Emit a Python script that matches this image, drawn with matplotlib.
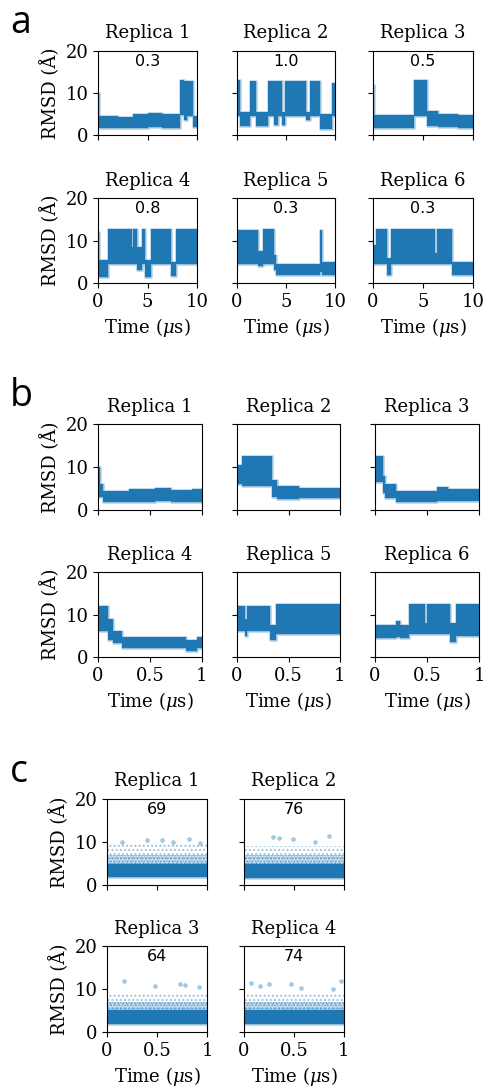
import numpy as np
import matplotlib
matplotlib.use("Agg")
import matplotlib.pyplot as plt

plt.rcParams['font.family'] = 'DejaVu Serif'
plt.rcParams['mathtext.fontset'] = 'dejavuserif'
plt.rcParams['hatch.linewidth'] = 1.0

# ---- panel a: 10 us runs, bands as (segment edges, low, high) ----
a_edges = [
    [0, 0.1, 2.0, 3.5, 5.0, 6.5, 8.3, 8.7, 9.0, 9.6, 10],
    [0, 0.27, 1.37, 1.98, 3.17, 3.8, 4.2, 4.6, 4.85, 7.0, 7.44, 8.46, 9.73, 10],
    [0, 0.1, 4.1, 5.4, 6.5, 8.5, 10],
    [0, 0.15, 1.0, 3.4, 3.55, 3.9, 4.4, 4.75, 5.4, 7.35, 7.85, 10],
    [0, 2.15, 2.7, 3.75, 4.0, 8.45, 8.7, 10],
    [0, 0.25, 1.35, 1.75, 6.2, 6.35, 7.9, 10],
]
a_low = [
    [2.0, 1.6, 1.6, 1.7, 1.8, 1.6, 4.8, 3.5, 4.5, 1.8],
    [4.5, 2.2, 4.5, 2.2, 4.5, 2.5, 4.5, 2.5, 4.5, 3.5, 4.5, 1.5, 4.5],
    [2.0, 1.6, 4.5, 2.2, 1.8, 1.6],
    [4.5, 1.5, 4.5, 4.5, 4.5, 3.0, 4.5, 1.5, 4.5, 1.6, 4.5],
    [4.5, 4.0, 4.5, 3.0, 1.8, 2.5, 1.8],
    [4.5, 4.5, 2.0, 4.5, 4.5, 4.5, 1.8],
]
a_high = [
    [10.0, 4.6, 4.4, 5.0, 5.2, 5.0, 13.0, 12.8, 12.8, 4.5],
    [13.0, 5.5, 12.8, 5.5, 12.8, 12.8, 12.8, 5.5, 12.8, 5.5, 12.8, 5.0, 12.5],
    [12.0, 4.8, 13.0, 5.8, 5.0, 4.8],
    [12.0, 5.5, 12.8, 8.5, 12.8, 8.5, 12.8, 5.5, 12.8, 5.0, 12.8],
    [12.5, 7.5, 12.8, 6.5, 4.5, 12.5, 5.0],
    [9.0, 12.8, 6.0, 12.8, 7.0, 12.8, 5.0],
]
a_notes = ['0.3', '1.0', '0.5', '0.8', '0.3', '0.3']

# ---- panel b: 1 us runs ----
b_edges = [
    [0, 0.02, 0.05, 0.3, 0.55, 0.7, 0.9, 1],
    [0, 0.05, 0.34, 0.39, 0.6, 1],
    [0, 0.08, 0.1, 0.2, 0.6, 0.7, 1],
    [0, 0.1, 0.14, 0.23, 0.85, 0.95, 1],
    [0, 0.08, 0.1, 0.32, 0.38, 1],
    [0, 0.2, 0.24, 0.33, 0.48, 0.5, 0.72, 0.78, 1],
]
b_low = [
    [3.0, 3.0, 1.8, 1.9, 2.0, 1.8, 1.8],
    [6.0, 5.5, 3.0, 2.6, 2.8],
    [6.5, 4.0, 2.8, 1.8, 2.0, 2.2],
    [6.0, 4.0, 3.3, 2.0, 1.5, 2.2],
    [6.0, 5.0, 6.0, 4.0, 5.5],
    [4.5, 4.8, 4.5, 5.5, 5.5, 5.5, 3.5, 5.0],
]
b_high = [
    [10.0, 6.0, 4.5, 4.8, 5.2, 4.6, 4.8],
    [10.5, 12.5, 7.0, 5.5, 5.2],
    [12.5, 8.0, 6.0, 4.5, 5.3, 5.0],
    [12.0, 9.0, 6.0, 4.6, 4.0, 4.8],
    [12.0, 9.0, 12.0, 7.5, 12.5],
    [7.5, 8.5, 7.5, 12.5, 8.0, 12.5, 8.0, 12.5],
]

# ---- panel c: 1 us runs, dense core + sparse cloud + outliers ----
c_core_low = [1.8, 1.7, 1.8, 1.8]
c_core_high = [5.0, 5.0, 5.0, 5.0]
c_mid_high = [7.0, 7.0, 7.0, 7.0]
c_cloud_high = [9.5, 9.0, 8.8, 8.8]
c_out_t = [
    [0.15, 0.40, 0.55, 0.66, 0.82, 0.93],
    [0.29, 0.35, 0.49, 0.71, 0.85],
    [0.17, 0.48, 0.73, 0.78, 0.92],
    [0.07, 0.16, 0.25, 0.47, 0.57, 0.89, 0.97],
]
c_out_y = [
    [10.1, 10.5, 10.5, 10.1, 10.6, 9.7],
    [11.1, 10.9, 10.6, 10.1, 11.4],
    [11.8, 10.7, 11.2, 11.0, 10.4],
    [11.4, 10.7, 11.1, 11.1, 10.3, 10.1, 11.9],
]
c_notes = ['69', '76', '64', '74']

W, H = 484, 1092
BLUE = '#1f77b4'
FS = 13
fig = plt.figure(figsize=(W / 100, H / 100), dpi=100)


def add_ax(x0, x1, y0, y1):
    return fig.add_axes([x0 / W, 1 - y1 / H, (x1 - x0) / W, (y1 - y0) / H])


def style(ax, xmax, xticks, xlabels, show_x, show_y, title):
    ax.set_xlim(0, xmax)
    ax.set_ylim(0, 20)
    ax.set_yticks([0, 10, 20])
    ax.set_xticks(xticks)
    ax.tick_params(labelsize=FS)
    if show_x:
        ax.set_xticklabels(xlabels)
        ax.set_xlabel(r'Time ($\mu$s)', fontsize=FS)
    else:
        ax.set_xticklabels([])
    if show_y:
        ax.set_ylabel('RMSD (Å)', fontsize=FS)
    else:
        ax.set_yticklabels([])
    ax.set_title(title, fontsize=FS, pad=9)


def bands(ax, edges, low, high):
    lo = np.append(low, low[-1])
    hi = np.append(high, high[-1])
    ax.fill_between(edges, lo, hi, step='post', color=BLUE, alpha=0.35,
                    lw=1.8, edgecolor=BLUE)
    ax.fill_between(edges, lo, hi, step='post', color=BLUE, lw=0)


def note(ax, s):
    ax.text(0.5, 0.88, s, transform=ax.transAxes, ha='center', va='center',
            fontsize=11.5, family='DejaVu Sans')


cols3 = [(98, 197), (237, 335), (373, 473)]
cols3b = [(98, 202), (237, 340), (375, 479)]
cols2 = [(107, 207), (244, 344)]

# panel a
for i in range(6):
    r, c = divmod(i, 3)
    y0, y1 = [(51, 135), (198, 283)][r]
    ax = add_ax(cols3[c][0], cols3[c][1], y0, y1)
    bands(ax, a_edges[i], a_low[i], a_high[i])
    style(ax, 10, [0, 5, 10], ['0', '5', '10'], r == 1, c == 0, f'Replica {i + 1}')
    note(ax, a_notes[i])

# panel b
for i in range(6):
    r, c = divmod(i, 3)
    y0, y1 = [(424, 510), (572, 657)][r]
    ax = add_ax(cols3b[c][0], cols3b[c][1], y0, y1)
    bands(ax, b_edges[i], b_low[i], b_high[i])
    style(ax, 1, [0, 0.5, 1], ['0', '0.5', '1'], r == 1, c == 0, f'Replica {i + 1}')

# panel c
for i in range(4):
    r, c = divmod(i, 2)
    y0, y1 = [(799, 885), (946, 1032)][r]
    ax = add_ax(cols2[c][0], cols2[c][1], y0, y1)
    # sparse cloud of frames drawn as a dotted hatch
    ax.fill_between([0, 1], c_core_high[i], c_cloud_high[i], facecolor='none',
                    edgecolor=(0.12, 0.47, 0.71, 0.4), hatch='....', lw=0)
    ax.fill_between([0, 1], c_core_high[i], c_mid_high[i], facecolor=(0.12, 0.47, 0.71, 0.15),
                    edgecolor=(0.12, 0.47, 0.71, 0.6), hatch='......', lw=0)
    bands(ax, [0, 1], [c_core_low[i]], [c_core_high[i]])
    ax.scatter(c_out_t[i], c_out_y[i], s=7, facecolor=BLUE, edgecolor=BLUE,
               alpha=0.35, lw=0.6)
    style(ax, 1, [0, 0.5, 1], ['0', '0.5', '1'], r == 1, c == 0, f'Replica {i + 1}')
    note(ax, c_notes[i])

for letter, y in [('a', 33), ('b', 406), ('c', 782)]:
    fig.text(10 / W, 1 - y / H, letter, fontsize=27, family='Open Sans',
             ha='left', va='baseline')

fig.savefig('out.png', dpi=100)
